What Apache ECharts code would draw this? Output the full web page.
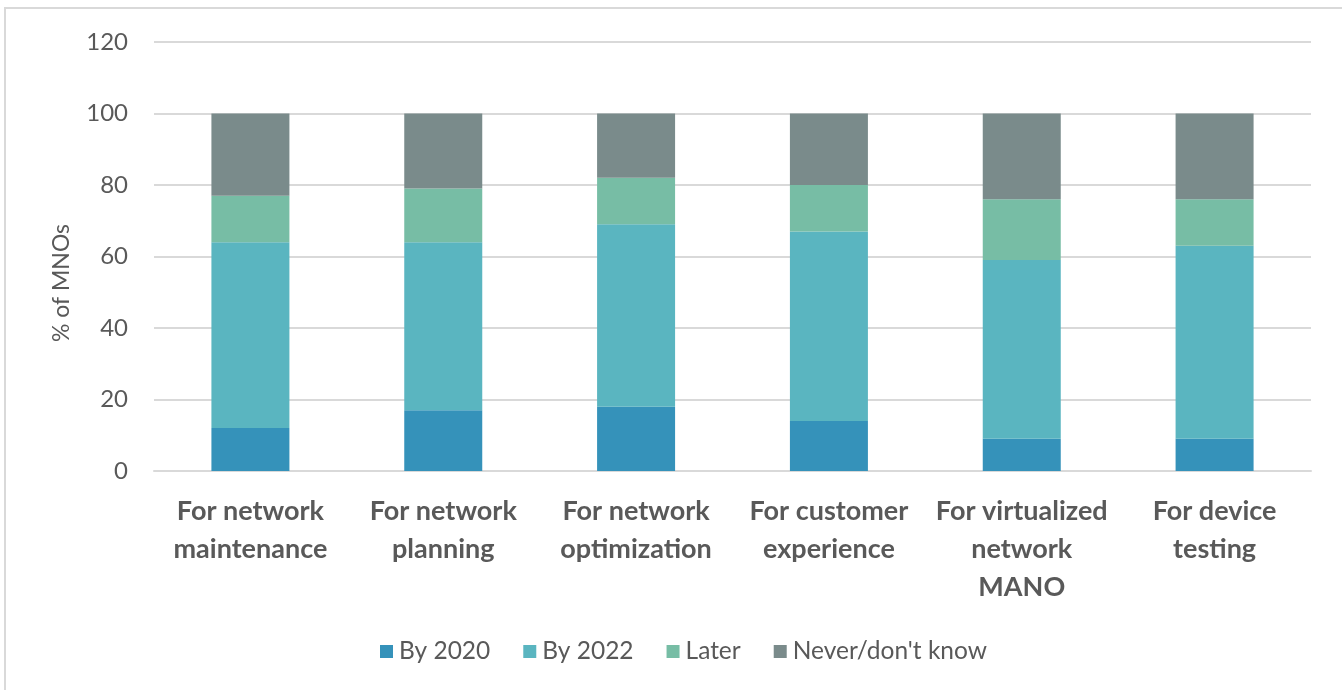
<!DOCTYPE html>
<html>
<head>
<meta charset="utf-8">
<script src="https://cdn.jsdelivr.net/npm/echarts@6/dist/echarts.min.js"></script>
<style>
  html, body { margin: 0; padding: 0; background: #ffffff; }
  #chart { width: 1342px; height: 690px; }
</style>
</head>
<body>
<div id="chart"></div>
<script>
// Categories (MNO use cases) and the share of MNOs per adoption timeframe (%)
const categories = [
  'For network\nmaintenance',
  'For network\nplanning',
  'For network\noptimization',
  'For customer\nexperience',
  'For virtualized\nnetwork\nMANO',
  'For device\ntesting'
];
const by2020 = [12, 17, 18, 14, 9, 9];
const by2022 = [52, 47, 51, 53, 50, 54];
const later = [13, 15, 13, 13, 17, 13];
const neverDontKnow = [23, 21, 18, 20, 24, 24];

const seriesNames = ['By 2020', 'By 2022', 'Later', "Never/don't know"];
const seriesValues = [by2020, by2022, later, neverDontKnow];
const seriesColors = ['#3592BA', '#5AB5C0', '#77BDA5', '#7A8B8B'];

const yTicks = { min: 0, max: 120, interval: 20 };

const FONT = 'Lato, "Open Sans", "Liberation Sans", sans-serif';
const TEXT_COLOR = '#595959';

const chart = echarts.init(document.getElementById('chart'), null, { renderer: 'canvas' });

chart.setOption({
  animation: false,
  backgroundColor: '#ffffff',
  textStyle: { fontFamily: FONT },
  graphic: [
    {
      // outer chart frame
      type: 'rect',
      shape: { x: 5, y: 8, width: 1400, height: 800 },
      style: { fill: 'none', stroke: '#D9D9D9', lineWidth: 2 },
      silent: true,
      z: 0
    },
    {
      type: 'text',
      x: 62,
      y: 283,
      rotation: Math.PI / 2,
      style: {
        text: '% of MNOs',
        fontFamily: FONT,
        fontSize: 23,
        fill: TEXT_COLOR,
        align: 'center',
        verticalAlign: 'middle'
      },
      silent: true
    }
  ],
  grid: { left: 154, right: 31, top: 42, bottom: 219, containLabel: false },
  legend: {
    bottom: 21,
    left: 375,
    itemWidth: 13,
    itemHeight: 13,
    itemGap: 33,
    icon: 'rect',
    textStyle: { fontFamily: FONT, fontSize: 24.5, color: TEXT_COLOR, padding: [0, 0, 0, 1] },
    data: seriesNames
  },
  xAxis: {
    type: 'category',
    data: categories,
    axisLine: { show: true, lineStyle: { color: '#D9D9D9', width: 2 } },
    axisTick: { show: false },
    axisLabel: {
      interval: 0,
      margin: 21,
      fontFamily: FONT,
      fontSize: 27,
      fontWeight: 'bold',
      color: TEXT_COLOR,
      lineHeight: 38
    }
  },
  yAxis: {
    type: 'value',
    min: yTicks.min,
    max: yTicks.max,
    interval: yTicks.interval,
    axisLine: { show: false },
    axisTick: { show: false },
    axisLabel: { fontFamily: FONT, fontSize: 24, color: TEXT_COLOR, margin: 26 },
    splitLine: { lineStyle: { color: '#D9D9D9', width: 2 } }
  },
  series: seriesNames.map((name, i) => ({
    name: name,
    type: 'bar',
    stack: 'total',
    barWidth: 78,
    data: seriesValues[i],
    itemStyle: { color: seriesColors[i] }
  }))
});
</script>
</body>
</html>
